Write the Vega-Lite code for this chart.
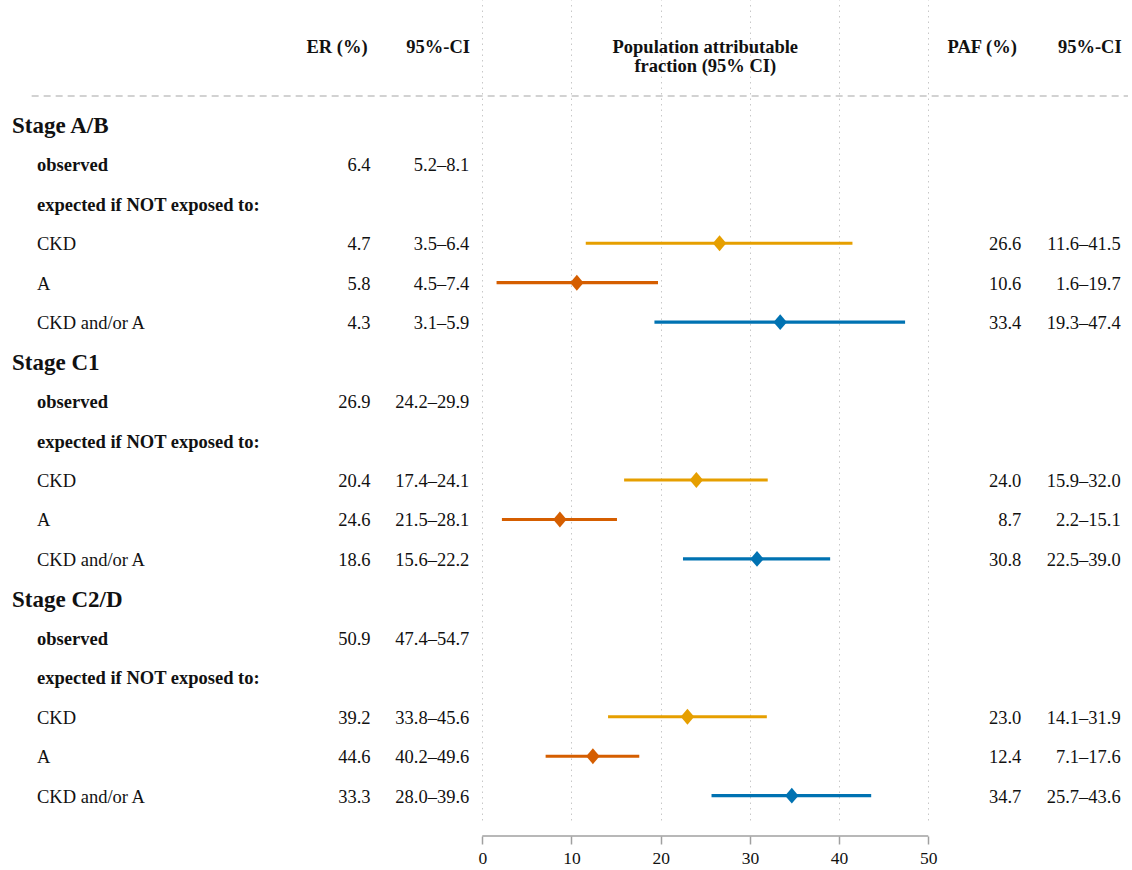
{
  "$schema": "https://vega.github.io/schema/vega-lite/v6.json",
  "width": 1132,
  "height": 820,
  "padding": 0,
  "autosize": {"type": "pad"},
  "background": "white",
  "config": {
    "view": {"stroke": null},
    "font": "Liberation Serif",
    "text": {"font": "Liberation Serif", "fontSize": 18.5, "color": "#111111", "baseline": "middle"},
    "axis": {"labelFont": "Liberation Serif", "labelFontSize": 17.5, "labelColor": "#111111"},
    "axisY": {"disable": true}
  },
  "datasets": {
    "rows": [
      {"row": 0, "kind": "stage", "label": "Stage A/B"},
      {"row": 1, "kind": "bold", "label": "observed", "er": "6.4", "erci": "5.2–8.1"},
      {"row": 2, "kind": "bold", "label": "expected if NOT exposed to:"},
      {"row": 3, "kind": "plain", "label": "CKD", "er": "4.7", "erci": "3.5–6.4", "paf": 26.6, "lo": 11.6, "hi": 41.5, "pafci": "11.6–41.5", "exp": "CKD"},
      {"row": 4, "kind": "plain", "label": "A", "er": "5.8", "erci": "4.5–7.4", "paf": 10.6, "lo": 1.6, "hi": 19.7, "pafci": "1.6–19.7", "exp": "A"},
      {"row": 5, "kind": "plain", "label": "CKD and/or A", "er": "4.3", "erci": "3.1–5.9", "paf": 33.4, "lo": 19.3, "hi": 47.4, "pafci": "19.3–47.4", "exp": "CKD and/or A"},
      {"row": 6, "kind": "stage", "label": "Stage C1"},
      {"row": 7, "kind": "bold", "label": "observed", "er": "26.9", "erci": "24.2–29.9"},
      {"row": 8, "kind": "bold", "label": "expected if NOT exposed to:"},
      {"row": 9, "kind": "plain", "label": "CKD", "er": "20.4", "erci": "17.4–24.1", "paf": 24.0, "lo": 15.9, "hi": 32.0, "pafci": "15.9–32.0", "exp": "CKD"},
      {"row": 10, "kind": "plain", "label": "A", "er": "24.6", "erci": "21.5–28.1", "paf": 8.7, "lo": 2.2, "hi": 15.1, "pafci": "2.2–15.1", "exp": "A"},
      {"row": 11, "kind": "plain", "label": "CKD and/or A", "er": "18.6", "erci": "15.6–22.2", "paf": 30.8, "lo": 22.5, "hi": 39.0, "pafci": "22.5–39.0", "exp": "CKD and/or A"},
      {"row": 12, "kind": "stage", "label": "Stage C2/D"},
      {"row": 13, "kind": "bold", "label": "observed", "er": "50.9", "erci": "47.4–54.7"},
      {"row": 14, "kind": "bold", "label": "expected if NOT exposed to:"},
      {"row": 15, "kind": "plain", "label": "CKD", "er": "39.2", "erci": "33.8–45.6", "paf": 23.0, "lo": 14.1, "hi": 31.9, "pafci": "14.1–31.9", "exp": "CKD"},
      {"row": 16, "kind": "plain", "label": "A", "er": "44.6", "erci": "40.2–49.6", "paf": 12.4, "lo": 7.1, "hi": 17.6, "pafci": "7.1–17.6", "exp": "A"},
      {"row": 17, "kind": "plain", "label": "CKD and/or A", "er": "33.3", "erci": "28.0–39.6", "paf": 34.7, "lo": 25.7, "hi": 43.6, "pafci": "25.7–43.6", "exp": "CKD and/or A"}
    ],
    "head": [
      {"col": "er", "h": "ER (%)"},
      {"col": "erci", "h": "95%-CI"},
      {"col": "title", "h": "Population attributable\nfraction (95% CI)"},
      {"col": "paf", "h": "PAF (%)"},
      {"col": "pafci", "h": "95%-CI"}
    ]
  },
  "data": {"name": "rows"},
  "layer": [
    {
      "transform": [{"filter": "isValid(datum.paf)"}],
      "mark": {"type": "rule", "strokeWidth": 3.2},
      "encoding": {
        "x": {
          "field": "lo", "type": "quantitative",
          "scale": {"domain": [-54.07, 72.84], "nice": false, "zero": false},
          "axis": {
            "values": [0, 10, 20, 30, 40, 50],
            "grid": true, "gridColor": "#c8c8c8", "gridDash": [1.5, 4], "gridWidth": 1,
            "domain": false, "ticks": true, "tickColor": "#a0a0a0", "tickSize": 8, "tickWidth": 1.5,
            "offset": 16, "labelFont": "Liberation Serif", "labelFontSize": 17.5, "labelColor": "#111111",
            "labelPadding": 5, "labelFlush": false, "title": null
          }
        },
        "x2": {"field": "hi"},
        "y": {
          "field": "row", "type": "quantitative",
          "scale": {"domain": [-3.165, 17.616], "nice": false, "zero": false, "reverse": true},
          "axis": null
        },
        "color": {
          "field": "exp", "type": "nominal",
          "scale": {"domain": ["CKD", "A", "CKD and/or A"], "range": ["#E69F00", "#D55E00", "#0072B2"]},
          "legend": null
        }
      }
    },
    {
      "transform": [{"filter": "isValid(datum.paf)"}],
      "mark": {"type": "point", "shape": "M-0.85,0L0,-1L0.85,0L0,1Z", "filled": true, "size": 250, "opacity": 1},
      "encoding": {
        "x": {"field": "paf", "type": "quantitative"},
        "y": {"field": "row", "type": "quantitative", "axis": null},
        "color": {"field": "exp", "type": "nominal", "legend": null}
      }
    },
    {
      "transform": [{"filter": "datum.kind == 'stage'"}],
      "mark": {"type": "text", "align": "left", "fontSize": 23, "fontWeight": "bold", "dy": 1.5},
      "encoding": {
        "x": {"datum": -52.72, "type": "quantitative"},
        "y": {"field": "row", "type": "quantitative", "axis": null},
        "text": {"field": "label"}
      }
    },
    {
      "transform": [{"filter": "datum.kind == 'bold'"}],
      "mark": {"type": "text", "align": "left", "fontWeight": "bold", "dy": 1},
      "encoding": {
        "x": {"datum": -49.92, "type": "quantitative"},
        "y": {"field": "row", "type": "quantitative", "axis": null},
        "text": {"field": "label"}
      }
    },
    {
      "transform": [{"filter": "datum.kind == 'plain'"}],
      "mark": {"type": "text", "align": "left", "dy": 1},
      "encoding": {
        "x": {"datum": -49.92, "type": "quantitative"},
        "y": {"field": "row", "type": "quantitative", "axis": null},
        "text": {"field": "label"}
      }
    },
    {
      "transform": [{"filter": "isValid(datum.er)"}],
      "mark": {"type": "text", "align": "right", "dy": 1},
      "encoding": {
        "x": {"datum": -12.53, "type": "quantitative"},
        "y": {"field": "row", "type": "quantitative", "axis": null},
        "text": {"field": "er"}
      }
    },
    {
      "transform": [{"filter": "isValid(datum.erci)"}],
      "mark": {"type": "text", "align": "right", "dy": 1},
      "encoding": {
        "x": {"datum": -1.46, "type": "quantitative"},
        "y": {"field": "row", "type": "quantitative", "axis": null},
        "text": {"field": "erci"}
      }
    },
    {
      "transform": [{"filter": "isValid(datum.paf)"}],
      "mark": {"type": "text", "align": "right", "dy": 1},
      "encoding": {
        "x": {"datum": 60.43, "type": "quantitative"},
        "y": {"field": "row", "type": "quantitative", "axis": null},
        "text": {"field": "paf", "type": "quantitative", "format": ".1f"}
      }
    },
    {
      "transform": [{"filter": "isValid(datum.pafci)"}],
      "mark": {"type": "text", "align": "right", "dy": 1},
      "encoding": {
        "x": {"datum": 71.57, "type": "quantitative"},
        "y": {"field": "row", "type": "quantitative", "axis": null},
        "text": {"field": "pafci"}
      }
    },
    {
      "data": {"name": "head"},
      "transform": [{"filter": "datum.col == 'er'"}],
      "mark": {"type": "text", "align": "right", "fontWeight": "bold"},
      "encoding": {
        "x": {"datum": -12.85, "type": "quantitative"},
        "y": {"datum": -1.974, "type": "quantitative", "axis": null},
        "text": {"field": "h"}
      }
    },
    {
      "data": {"name": "head"},
      "transform": [{"filter": "datum.col == 'erci'"}],
      "mark": {"type": "text", "align": "right", "fontWeight": "bold"},
      "encoding": {
        "x": {"datum": -1.38, "type": "quantitative"},
        "y": {"datum": -1.974, "type": "quantitative", "axis": null},
        "text": {"field": "h"}
      }
    },
    {
      "data": {"name": "head"},
      "transform": [{"filter": "datum.col == 'title'"}],
      "mark": {"type": "text", "align": "center", "fontWeight": "bold", "lineBreak": "\n", "lineHeight": 19},
      "encoding": {
        "x": {"datum": 25, "type": "quantitative"},
        "y": {"datum": -1.974, "type": "quantitative", "axis": null},
        "text": {"field": "h"}
      }
    },
    {
      "data": {"name": "head"},
      "transform": [{"filter": "datum.col == 'paf'"}],
      "mark": {"type": "text", "align": "right", "fontWeight": "bold"},
      "encoding": {
        "x": {"datum": 59.94, "type": "quantitative"},
        "y": {"datum": -1.974, "type": "quantitative", "axis": null},
        "text": {"field": "h"}
      }
    },
    {
      "data": {"name": "head"},
      "transform": [{"filter": "datum.col == 'pafci'"}],
      "mark": {"type": "text", "align": "right", "fontWeight": "bold"},
      "encoding": {
        "x": {"datum": 71.68, "type": "quantitative"},
        "y": {"datum": -1.974, "type": "quantitative", "axis": null},
        "text": {"field": "h"}
      }
    },
    {
      "data": {"values": [{"line": "separator"}]},
      "mark": {"type": "rule", "color": "#c4c4c4", "strokeWidth": 1.5, "strokeDash": [7, 5]},
      "encoding": {
        "x": {"datum": -50.52, "type": "quantitative"},
        "x2": {"datum": 72.39},
        "y": {"datum": -0.732, "type": "quantitative", "axis": null}
      }
    },
    {
      "data": {"values": [{"line": "axis"}]},
      "mark": {"type": "rule", "color": "#a0a0a0", "strokeWidth": 1.5},
      "encoding": {
        "x": {"datum": 0, "type": "quantitative"},
        "x2": {"datum": 50},
        "y": {"datum": 18.021, "type": "quantitative", "axis": null}
      }
    }
  ]
}
